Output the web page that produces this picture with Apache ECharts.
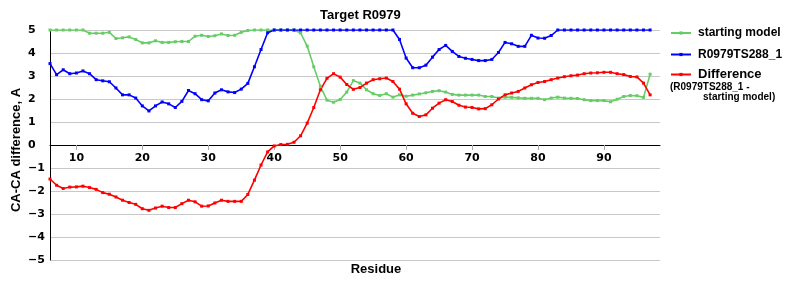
<!DOCTYPE html>
<html>
<head>
<meta charset="utf-8">
<script src="https://cdn.jsdelivr.net/npm/echarts@6/dist/echarts.min.js"></script>
<style>html,body{margin:0;padding:0;background:#fff}#c{width:800px;height:300px}</style>
</head>
<body>
<div id="c"></div>
<script>
const residues = [6,7,8,9,10,11,12,13,14,15,16,17,18,19,20,21,22,23,24,25,26,27,28,29,30,31,32,33,34,35,36,37,38,39,40,41,42,43,44,45,46,47,48,49,50,51,52,53,54,55,56,57,58,59,60,61,62,63,64,65,66,67,68,69,70,71,72,73,74,75,76,77,78,79,80,81,82,83,84,85,86,87,88,89,90,91,92,93,94,95,96,97];
const startingModel = [5,5,5,5,5,5,4.86,4.86,4.86,4.9,4.63,4.66,4.7,4.59,4.44,4.44,4.53,4.46,4.46,4.49,4.5,4.5,4.73,4.77,4.72,4.75,4.83,4.76,4.77,4.9,4.98,5,5,5,5,5,5,5,4.87,4.3,3.4,2.55,1.95,1.86,1.98,2.3,2.8,2.69,2.4,2.23,2.15,2.23,2.08,2.18,2.12,2.17,2.22,2.27,2.33,2.36,2.3,2.2,2.17,2.17,2.17,2.17,2.11,2.11,2.04,2.08,2.07,2.05,2.03,2.03,2.03,1.97,2.04,2.08,2.04,2.03,2.02,1.97,1.93,1.93,1.93,1.88,1.99,2.11,2.15,2.14,2.07,3.08];
const modelTS288 = [3.54,3.06,3.27,3.1,3.13,3.22,3.1,2.84,2.79,2.75,2.48,2.18,2.18,2.04,1.7,1.48,1.7,1.87,1.79,1.63,1.9,2.37,2.23,1.97,1.92,2.26,2.4,2.31,2.28,2.43,2.68,3.4,4.15,4.88,5,5,5,5,5,5,5,5,5,5,5,5,5,5,5,5,5,5,5,4.59,3.78,3.36,3.36,3.47,3.82,4.15,4.33,4.07,3.85,3.77,3.72,3.67,3.67,3.72,4.02,4.46,4.4,4.29,4.29,4.77,4.65,4.64,4.76,5,5,5,5,5,5,5,5,5,5,5,5,5,5,5];
const difference = [-1.48,-1.75,-1.89,-1.83,-1.82,-1.79,-1.85,-1.93,-2.07,-2.14,-2.26,-2.4,-2.5,-2.58,-2.77,-2.84,-2.74,-2.66,-2.72,-2.72,-2.55,-2.4,-2.47,-2.66,-2.65,-2.52,-2.4,-2.45,-2.45,-2.45,-2.15,-1.53,-0.87,-0.3,-0.04,0.02,0.03,0.12,0.4,0.95,1.63,2.4,2.9,3.1,2.95,2.63,2.42,2.5,2.69,2.84,2.88,2.91,2.76,2.43,1.79,1.38,1.24,1.31,1.6,1.82,1.97,1.89,1.73,1.65,1.63,1.57,1.58,1.75,2.0,2.18,2.26,2.33,2.48,2.62,2.72,2.76,2.84,2.91,2.97,3.01,3.04,3.1,3.13,3.14,3.16,3.16,3.1,3.06,2.98,2.96,2.69,2.18];
const xTicks = [10,20,30,40,50,60,70,80,90];
const seriesNames = ['starting model','R0979TS288_1','Difference'];

const pair = arr => residues.map((r,i)=>[r,arr[i]]);
const lab = 'Liberation Sans, Arial, sans-serif';
const tick = 'DejaVu Sans, Verdana, sans-serif';
const colors = ['#66cc66','#0000ff','#ff0000'];
const mk = (name, arr, c) => ({
  name, type:'line', data: pair(arr), showSymbol:true, symbol:'rect', symbolSize:[3,3],
  itemStyle:{color:c}, lineStyle:{color:c, width:1.6}, z: 2
});
const legendBase = (name, top, size) => ({
  data:[name], left:670, top, padding:0, itemWidth:20, itemHeight:4, itemGap:0,
  textStyle:{fontFamily:lab, fontWeight:'bold', fontSize:size, color:'#000', padding:[0,0,0,2]}
});
const chart = echarts.init(document.getElementById('c'));
chart.setOption({
  animation:false,
  backgroundColor:'#fff',
  title:{text:'Target R0979', left:320, top:9, padding:0,
    textStyle:{fontFamily:lab, fontWeight:'bold', fontSize:13, color:'#000'}},
  legend:[legendBase(seriesNames[0],27,12), legendBase(seriesNames[1],48.5,12), legendBase(seriesNames[2],68,13)],
  graphic:[
    {type:'text', left:670, top:82, style:{text:'(R0979TS288_1 -', font:'bold 10px Liberation Sans', fill:'#000'}},
    {type:'text', left:703, top:92, style:{text:'starting model)', font:'bold 10px Liberation Sans', fill:'#000'}}
  ],
  grid:{left:50, right:140, top:30, bottom:40, containLabel:false, outerBoundsMode:'none'},
  xAxis:{type:'value', min:6, max:98.5, position:'bottom', offset:-115,
    axisLine:{onZero:false, lineStyle:{color:'#000', width:1}},
    axisTick:{show:true, customValues:xTicks, length:5, lineStyle:{color:'#aaa'}},
    axisLabel:{customValues:xTicks, margin:8, fontFamily:tick, fontWeight:'bold', fontSize:11, color:'#000'},
    splitLine:{show:false},
    name:'Residue', nameLocation:'middle', nameGap:118, nameMoveOverlap:false,
    nameTextStyle:{fontFamily:lab, fontWeight:'bold', fontSize:13, color:'#000', padding:[0,0,0,42]}
  },
  yAxis:{type:'value', min:-5, max:5, interval:1,
    axisLine:{show:true, lineStyle:{color:'#000', width:1}},
    axisTick:{show:false},
    axisLabel:{align:'left', margin:22, fontFamily:tick, fontWeight:'bold', fontSize:11, color:'#000',
      formatter: v => v < 0 ? '\u2212' + (-v) : String(v)},
    splitLine:{show:true, lineStyle:{color:'#c8c8c8', width:1}},
    name:'CA-CA difference, A', nameLocation:'middle', nameRotate:90, nameGap:27, nameMoveOverlap:false,
    nameTextStyle:{fontFamily:lab, fontWeight:'bold', fontSize:13, color:'#000', padding:[0,10,0,0]}
  },
  series:[
    mk(seriesNames[0], startingModel, colors[0]),
    mk(seriesNames[1], modelTS288, colors[1]),
    mk(seriesNames[2], difference, colors[2])
  ]
});
</script>
</body>
</html>
